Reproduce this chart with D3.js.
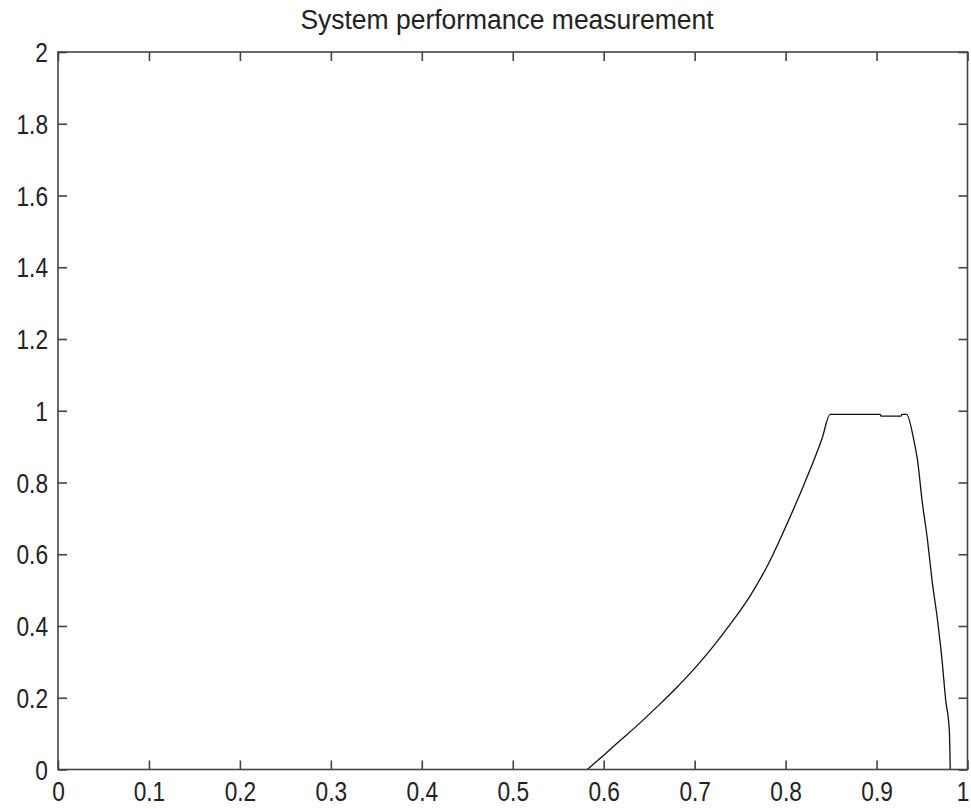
<!DOCTYPE html>
<html>
<head>
<meta charset="utf-8">
<script src="https://cdn.jsdelivr.net/npm/d3@7/dist/d3.min.js"></script>
<style>
  html, body { margin: 0; padding: 0; background: #fff; }
  svg { display: block; }
  text { font-family: "Liberation Sans", Arial, sans-serif; fill: #222; }
</style>
</head>
<body>
<svg id="chart" width="971" height="809"></svg>
<script>
const title = "System performance measurement";
const xTicks = [0, 0.1, 0.2, 0.3, 0.4, 0.5, 0.6, 0.7, 0.8, 0.9, 1];
const yTicks = [0, 0.2, 0.4, 0.6, 0.8, 1, 1.2, 1.4, 1.6, 1.8, 2];
const xTickLabels = ["0", "0.1", "0.2", "0.3", "0.4", "0.5", "0.6", "0.7", "0.8", "0.9", "1"];
const yTickLabels = ["0", "0.2", "0.4", "0.6", "0.8", "1", "1.2", "1.4", "1.6", "1.8", "2"];

const xs = [0.582, 0.600, 0.620, 0.640, 0.660, 0.680, 0.700, 0.720, 0.740, 0.760, 0.780, 0.800, 0.820, 0.840, 0.849,
            0.904, 0.905, 0.927, 0.928, 0.933, 0.941, 0.945, 0.950, 0.956, 0.961, 0.967, 0.972, 0.976, 0.980, 0.981];
const ys = [0.000, 0.040, 0.085, 0.130, 0.178, 0.228, 0.282, 0.342, 0.408, 0.480, 0.568, 0.676, 0.793, 0.922, 0.990,
            0.990, 0.985, 0.985, 0.990, 0.990, 0.918, 0.863, 0.751, 0.640, 0.528, 0.417, 0.305, 0.194, 0.110, 0.000];

const svg = d3.select("#chart");
const M = { left: 58, right: 967.5, top: 52, bottom: 769.5 };
const x = d3.scaleLinear().domain([0, 1]).range([M.left, M.right]);
const y = d3.scaleLinear().domain([0, 2]).range([M.bottom, M.top]);
const TICK = 9;
const FS = 27;
const SQUEEZE = 0.84;

function squeeze(sel, k) {
  sel.each(function () {
    const w = this.getComputedTextLength();
    this.setAttribute("textLength", w * k);
    this.setAttribute("lengthAdjust", "spacingAndGlyphs");
  });
}

// Data line
const line = d3.line().x((d, i) => x(xs[i])).y((d, i) => y(ys[i])).curve(d3.curveMonotoneX);
svg.append("path")
  .datum(xs)
  .attr("d", line)
  .attr("fill", "none")
  .attr("stroke", "#111")
  .attr("stroke-width", 1.3)
  .attr("stroke-linejoin", "round");

// Axes with inward ticks
const axStyle = g => {
  g.select(".domain").remove();
  g.selectAll(".tick line").attr("stroke", "#444").attr("stroke-width", 1.6);
};

svg.append("g").attr("transform", `translate(0,${M.bottom})`)
  .call(d3.axisBottom(x).tickValues(xTicks).tickSizeInner(-TICK).tickSizeOuter(0).tickFormat((d, i) => xTickLabels[i]))
  .call(axStyle)
  .call(g => g.selectAll(".tick text")
    .attr("font-size", FS).attr("fill", "#222").attr("font-family", "Liberation Sans, Arial, sans-serif")
    .attr("dy", "0.71em").attr("y", 12))
  .call(g => g.selectAll(".tick text").filter((d, i) => i === xTicks.length - 1)
    .attr("text-anchor", "end").attr("x", 969 - M.right));

svg.append("g").attr("transform", `translate(0,${M.top})`)
  .call(d3.axisTop(x).tickValues(xTicks).tickSizeInner(-TICK).tickSizeOuter(0).tickFormat(""))
  .call(axStyle);

svg.append("g").attr("transform", `translate(${M.left},0)`)
  .call(d3.axisLeft(y).tickValues(yTicks).tickSizeInner(-TICK).tickSizeOuter(0).tickFormat((d, i) => yTickLabels[i]))
  .call(axStyle)
  .call(g => g.selectAll(".tick text")
    .attr("font-size", FS).attr("fill", "#222").attr("font-family", "Liberation Sans, Arial, sans-serif")
    .attr("x", -10).attr("dy", "0.36em"));

svg.append("g").attr("transform", `translate(${M.right},0)`)
  .call(d3.axisRight(y).tickValues(yTicks).tickSizeInner(-TICK).tickSizeOuter(0).tickFormat(""))
  .call(axStyle);

// Box
svg.append("rect")
  .attr("x", M.left).attr("y", M.top)
  .attr("width", M.right - M.left).attr("height", M.bottom - M.top)
  .attr("fill", "none").attr("stroke", "#444").attr("stroke-width", 1.6);

squeeze(svg.selectAll(".tick text"), SQUEEZE);

// Title
svg.append("text")
  .attr("x", 507).attr("y", 29)
  .attr("text-anchor", "middle")
  .attr("font-size", 27)
  .text(title)
  .call(s => squeeze(s, 0.98));
</script>
</body>
</html>
